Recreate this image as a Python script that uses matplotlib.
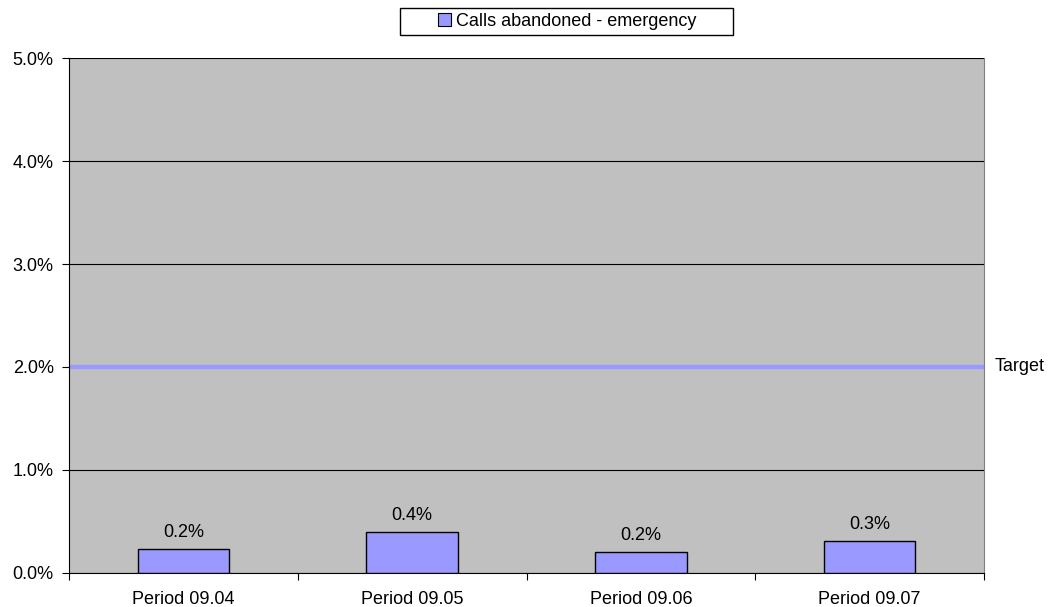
import matplotlib
matplotlib.use("Agg")
import matplotlib.pyplot as plt
from matplotlib.patches import Patch, Rectangle
from matplotlib.ticker import FixedLocator, NullFormatter, FuncFormatter

categories = ["Period 09.04", "Period 09.05", "Period 09.06", "Period 09.07"]
abandoned = [0.23, 0.40, 0.205, 0.31]
labels = ["0.2%", "0.4%", "0.2%", "0.3%"]
target = 2.0

plt.rcParams["font.family"] = ["Liberation Sans", "DejaVu Sans"]
plt.rcParams["font.size"] = 13

fig = plt.figure(figsize=(10.55, 6.07), dpi=100)
ax = fig.add_axes([69 / 1055, 1 - 572.7 / 607, 915 / 1055, (572.7 - 58.3) / 607])
ax.set_facecolor("#C0C0C0")

x = list(range(len(categories)))
bars = ax.bar(x, abandoned, width=0.40, color="#9999FF", edgecolor="black", linewidth=1.0, zorder=3)
for b, lab in zip(bars, labels):
    ax.text(b.get_x() + b.get_width() / 2, b.get_height() + 0.075, lab, ha="center", va="bottom", zorder=4)

ax.axhline(target, color="#9999FF", linewidth=3.2, zorder=2)
ax.text(1.012, target / 5, "Target", transform=ax.transAxes, ha="left", va="center")

ax.set_xlim(-0.5, len(categories) - 0.5)
ax.set_ylim(0, 5)
ax.set_yticks([0, 1, 2, 3, 4, 5])
ax.yaxis.set_major_formatter(FuncFormatter(lambda v, p: f"{v:.1f}%"))
ax.grid(axis="y", color="black", linewidth=0.8, zorder=1)

# category labels centred, ticks at category boundaries
ax.xaxis.set_major_locator(FixedLocator([i - 0.5 for i in range(len(categories) + 1)]))
ax.xaxis.set_major_formatter(NullFormatter())
ax.xaxis.set_minor_locator(FixedLocator(x))
ax.set_xticklabels(categories, minor=True)
ax.tick_params(axis="x", which="minor", length=0, pad=13)
ax.tick_params(axis="x", which="major", length=5, color="black")
ax.tick_params(axis="y", length=5, color="black", pad=6)

ax.spines["top"].set_visible(False)
ax.spines["right"].set_color("#808080")
ax.spines["left"].set_color("black")
ax.spines["bottom"].set_color("black")

# legend: wide box like the original, entry centred inside
fig.patches.append(Rectangle((400 / 1055, 1 - 35 / 607), 333 / 1055, 27 / 607, transform=fig.transFigure,
                             facecolor="white", edgecolor="black", linewidth=1.0))
leg_handle = Patch(facecolor="#9999FF", edgecolor="black", linewidth=0.8)
fig.legend([leg_handle], ["Calls abandoned - emergency"], loc="center", bbox_to_anchor=(567 / 1055, 1 - 21.5 / 607),
           frameon=False, handlelength=0.75, handleheight=0.75, handletextpad=0.25, borderpad=0, borderaxespad=0)

fig.savefig("out.png", dpi=100)
